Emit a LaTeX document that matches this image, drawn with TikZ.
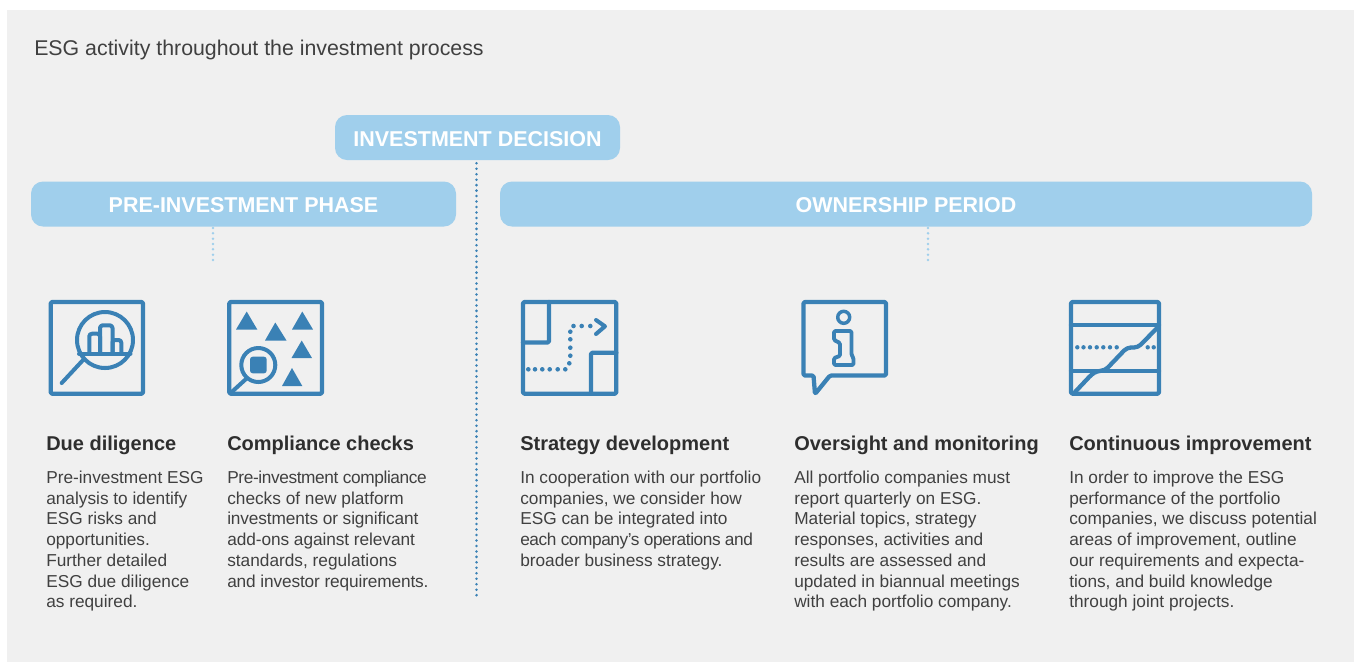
\documentclass[tikz,border=0pt]{standalone}
\usepackage{fontspec}
\setmainfont{Liberation Sans}
\definecolor{panel}{HTML}{F0F0F0}
\definecolor{bandblue}{HTML}{A0CFEC}
\definecolor{iconblue}{HTML}{3A81B5}
\definecolor{bodyink}{HTML}{404040}
\newcommand{\tightline}[2]{{\addfontfeature{LetterSpace=#1}#2}}
\tikzset{
  band/.style={fill=bandblue,rounded corners=9pt,text=white,font=\fontsize{16.1pt}{18pt}\selectfont\bfseries,inner sep=0pt,minimum height=33.75pt,text height=13pt,text depth=0pt},
  gate/.style={iconblue,line width=2.1pt,dash pattern=on 0pt off 4.1pt,line cap=round},
  softgate/.style={bandblue,line width=2.1pt,dash pattern=on 0pt off 4pt,line cap=round},
  heading/.style={anchor=base west,inner sep=0pt,text=black!82,font=\fontsize{15pt}{18pt}\selectfont\bfseries},
  bodytext/.style={anchor=north west,inner sep=0pt,align=left,text=bodyink,font=\fontsize{12.95pt}{15.56pt}\selectfont},
  ico/.style={iconblue,line width=3.2pt,line join=round,line cap=round,rounded corners=1pt},
  icothin/.style={iconblue,line width=3pt,line join=round,line cap=round},
  dotfill/.style={fill=iconblue,draw=none},
}
\begin{document}
\begin{tikzpicture}[x=0.75pt,y=-0.75pt]
\path[use as bounding box,fill=white] (0,0) rectangle (1356,662);
\fill[panel] (7,10) rectangle (1354,662);
\node[anchor=base west,inner sep=0pt,text=bodyink,font=\fontsize{16pt}{18pt}\selectfont] (title) at (34,55) {ESG activity throughout the investment process};

% bands
\node[band,minimum width=213.75pt] (dec) at (477.5,137.5) {INVESTMENT DECISION};
\node[band,minimum width=318.75pt] (pre) at (243.5,204) {PRE-INVESTMENT PHASE};
\node[band,minimum width=609pt] (own) at (906,204) {OWNERSHIP PERIOD};

% dotted connectors
\coordinate (decend) at (476.5,598);
\coordinate (pretop) at (213,228);
\coordinate (preend) at (213,260);
\coordinate (owntop) at (928,228);
\coordinate (ownend) at (928,260);
\draw[gate] (decend |- dec.south) ++(0,3) -- (decend);
\draw[softgate] (pretop) -- (preend);
\draw[softgate] (owntop) -- (ownend);

% icon 1
\draw[ico] (50.7,302) rectangle (143,393.7);
\draw[icothin] (105,340) circle (28);
\draw[icothin] (84,359) -- (61.7,383);
\draw[icothin] (79,353.5) -- (130.5,353.5);
\draw[icothin,rounded corners=2pt] (89.3,353.5) -- (89.3,333.7) -- (100,333.7) -- (100,353.5);
\draw[icothin,rounded corners=2pt] (100,353.5) -- (100,325.3) -- (112.5,325.3) -- (112.5,353.5);
\draw[icothin,rounded corners=2pt] (112.5,353.5) -- (112.5,340) -- (121.3,340) -- (121.3,353.5);

% icon 2
\draw[ico] (229.3,302) rectangle (322,393.7);
\fill[iconblue] (246.7,311.5) -- (236,329.5) -- (257.3,329.5) -- cycle;
\fill[iconblue] (275.3,322.5) -- (265,340.5) -- (286.5,340.5) -- cycle;
\fill[iconblue] (302.3,311.5) -- (292,329.5) -- (313,329.5) -- cycle;
\fill[iconblue] (301.7,340.5) -- (291.5,358) -- (312,358) -- cycle;
\fill[iconblue] (292,368) -- (282,386) -- (302.3,386) -- cycle;
\draw[icothin] (258.3,365) circle (17);
\fill[iconblue,rounded corners=2pt] (250,356.7) rectangle (266.7,373.3);
\draw[icothin] (246,379) -- (231.7,392);

% icon 3
\draw[ico] (523,302) rectangle (616.3,393.7);
\draw[ico] (523,342.5) -- (549,342.5) -- (549,302);
\draw[ico] (591,393.7) -- (591,352.7) -- (616.3,352.7);
\foreach \px/\py in {528.3/369.3,535/369.3,542.3/369.3,549.7/369.3,557.7/369.3,565.3/369.3,569.3/363.3,570.3/355.7,570.3/347.7,570.3/339.3,570.3/331.7,573.5/326,581.7/326,590.3/326}
  \fill[dotfill] (\px,\py) circle (2.3);
\draw[icothin] (596,320) -- (605,326.3) -- (596,334);

% icon 4
\draw[ico] (803.5,302) -- (886,302) -- (886,375.5) -- (830,375.5) -- (815,394) -- (813.5,375.5) -- (803.5,375.5) -- cycle;
\draw[icothin,line width=2.6pt] (843.7,317.3) circle (6);
\draw[icothin,line width=2.9pt,rounded corners=1pt] (834,331) -- (851.5,331) -- (851.5,355) -- (853.5,358) -- (853.5,365) -- (834,365) -- (834,358) -- (840,356) -- (840,343) -- (834,340) -- cycle;

% icon 5
\draw[ico] (1071,302) rectangle (1159,393.7);
\draw[ico] (1071,325) -- (1159,325);
\draw[ico] (1071,370.7) -- (1159,370.7);
\draw[icothin,line width=3.2pt,rounded corners=3pt] (1075,392) -- (1092,374) -- (1097,371) -- (1105,370.5) -- (1127,347.5) -- (1138,347.5) -- (1158,327);
\foreach \px in {1077.3,1083.5,1090,1096.7,1103.3,1110,1116.7,1147.7,1153.7}
  \fill[dotfill] (\px,347.3) circle (2.2);

% texts
\node[heading] (h1) at (46,450) {Due diligence};
\node[heading] (h2) at (227,450) {Compliance checks};
\node[heading] (h3) at (520,450) {Strategy development};
\node[heading] (h4) at (794,450) {Oversight and monitoring};
\node[heading] (h5) at (1069,450) {Continuous improvement};

\node[bodytext] (b1) at (46,470.7) {Pre-investment ESG\\analysis to identify\\ESG risks and\\opportunities.\\Further detailed\\ESG due diligence\\as required.};
\node[bodytext] (b2) at (227,470.7) {\tightline{-2.2}{Pre-investment compliance}\\checks of new platform\\\tightline{-0.7}{investments or significant}\\\tightline{-0.4}{add-ons against relevant}\\standards, regulations\\\tightline{-0.8}{and investor requirements.}};
\node[bodytext] (b3) at (520,470.7) {In cooperation with our portfolio\\companies, we consider how\\ESG can be integrated into\\\tightline{-2.5}{each company’s operations and}\\broader business strategy.};
\node[bodytext] (b4) at (794,470.7) {All portfolio companies must\\report quarterly on ESG.\\Material topics, strategy\\responses, activities and\\results are assessed and\\updated in biannual meetings\\with each portfolio company.};
\node[bodytext] (b5) at (1069,470.7) {In order to improve the ESG\\performance of the portfolio\\companies, we discuss potential\\areas of improvement, outline\\our requirements and expecta-\\tions, and build knowledge\\through joint projects.};
\end{tikzpicture}
\end{document}
